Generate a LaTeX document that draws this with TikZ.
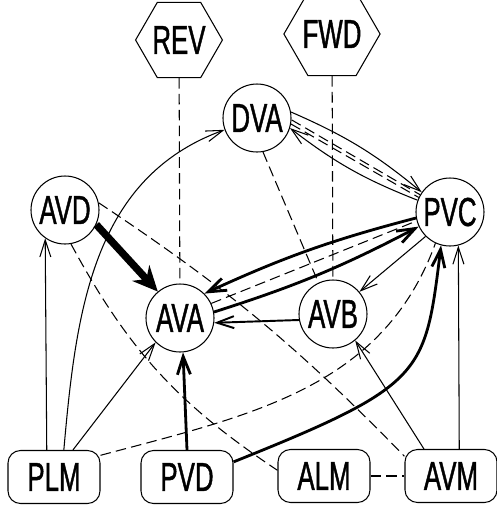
\documentclass[tikz,border=0pt]{standalone}
\usepackage{fontspec}
\usepackage{tikz}
\usetikzlibrary{arrows.meta,shapes.geometric}
\newfontfamily\cellfont{Liberation Sans}[FakeStretch=0.64,FakeBold=1]

\begin{document}
\begin{tikzpicture}[every node/.style={font=\cellfont\fontsize{23}{25}\selectfont, line width=0.6pt},
        cell/.style={draw, circle, minimum size=1.36cm, inner sep=0pt},
        sense/.style={draw, rounded corners=2.5mm, minimum width=1.84cm, minimum height=1.06cm, inner sep=0pt},
        motor/.style={draw, regular polygon, regular polygon sides=6, minimum size=1.34cm, inner sep=0pt},
        syn/.style={line width=0.6pt, -{Straight Barb[length=3.4mm,width=2.2mm]}},
        strong/.style={line width=1.6pt, -{Straight Barb[length=3.6mm,width=2.6mm]}},
        gapj/.style={line width=0.6pt, dash pattern=on 6pt off 3pt}]
        \useasboundingbox (0,0) rectangle (9.94,-10.12);
        \node[motor] (rev) at (3.58,-0.80) {REV};
        \node[motor] (fwd) at (6.64,-0.68) {FWD};
        \node[cell] (dva) at (5.14,-2.36) {DVA};
        \node[cell] (avd) at (1.30,-4.20) {AVD};
        \node[cell] (ava) at (3.60,-6.36) {AVA};
        \node[cell] (avb) at (6.66,-6.28) {AVB};
        \node[cell] (pvc) at (9.00,-4.24) {PVC};
        \node[sense] (plm) at (1.08,-9.54) {PLM};
        \node[sense] (pvd) at (3.74,-9.54) {PVD};
        \node[sense] (alm) at (6.48,-9.52) {ALM};
        \node[sense] (avm) at (9.02,-9.52) {AVM};
        \draw[gapj] (rev) -- (ava);
        \draw[gapj] (fwd) -- (avb);
        \draw[syn] (plm.105) -- (avd.-125);
        \draw[syn] (plm.70) to[out=85,in=200] (dva.200);
        \draw[syn] (plm.55) -- (ava.-135);
        \draw[gapj] (plm.25) to[out=15,in=250] (pvc.-115);
        \draw[strong] (pvd.north) -- (ava.-85);
        \draw[strong] (pvd.18) .. controls (8.5,-7.7) and (8.5,-7.5) .. (pvc.-105);
        \draw[line width=4.2pt, -{Stealth[length=5mm,width=4.6mm]}] (avd.-25) -- (ava.130);
        \draw[gapj] (avd.-80) to[bend right=14] (alm.173);
        \draw[gapj] (avd.12) to[bend left=6] (avm.157);
        \draw[gapj] (dva.-80) -- (avb.115);
        \draw[syn] (dva.10) to[bend left=8] (pvc.145);
        \draw[syn] (pvc.160) to[bend left=8] (dva.-17);
        \draw[gapj] (dva.-3) -- (pvc.150);
        \draw[gapj] (dva.-10) -- (pvc.155);
        \draw[strong] (pvc.190) to[bend right=5] (ava.45);
        \draw[strong] (ava.10) to[bend right=5] (pvc.-155);
        \draw[gapj] (ava.25) -- (pvc.-165);
        \draw[line width=1.1pt, -{Straight Barb[length=3.4mm,width=2.4mm]}] (avb.190) -- (ava.-8);
        \draw[syn] (pvc.-135) -- (avb.40);
        \draw[syn] (avm.135) -- (avb.-50);
        \draw[syn] (avm.73) -- (pvc.-76);
        \draw[gapj] (alm) -- (avm);
    \end{tikzpicture}
\end{document}
